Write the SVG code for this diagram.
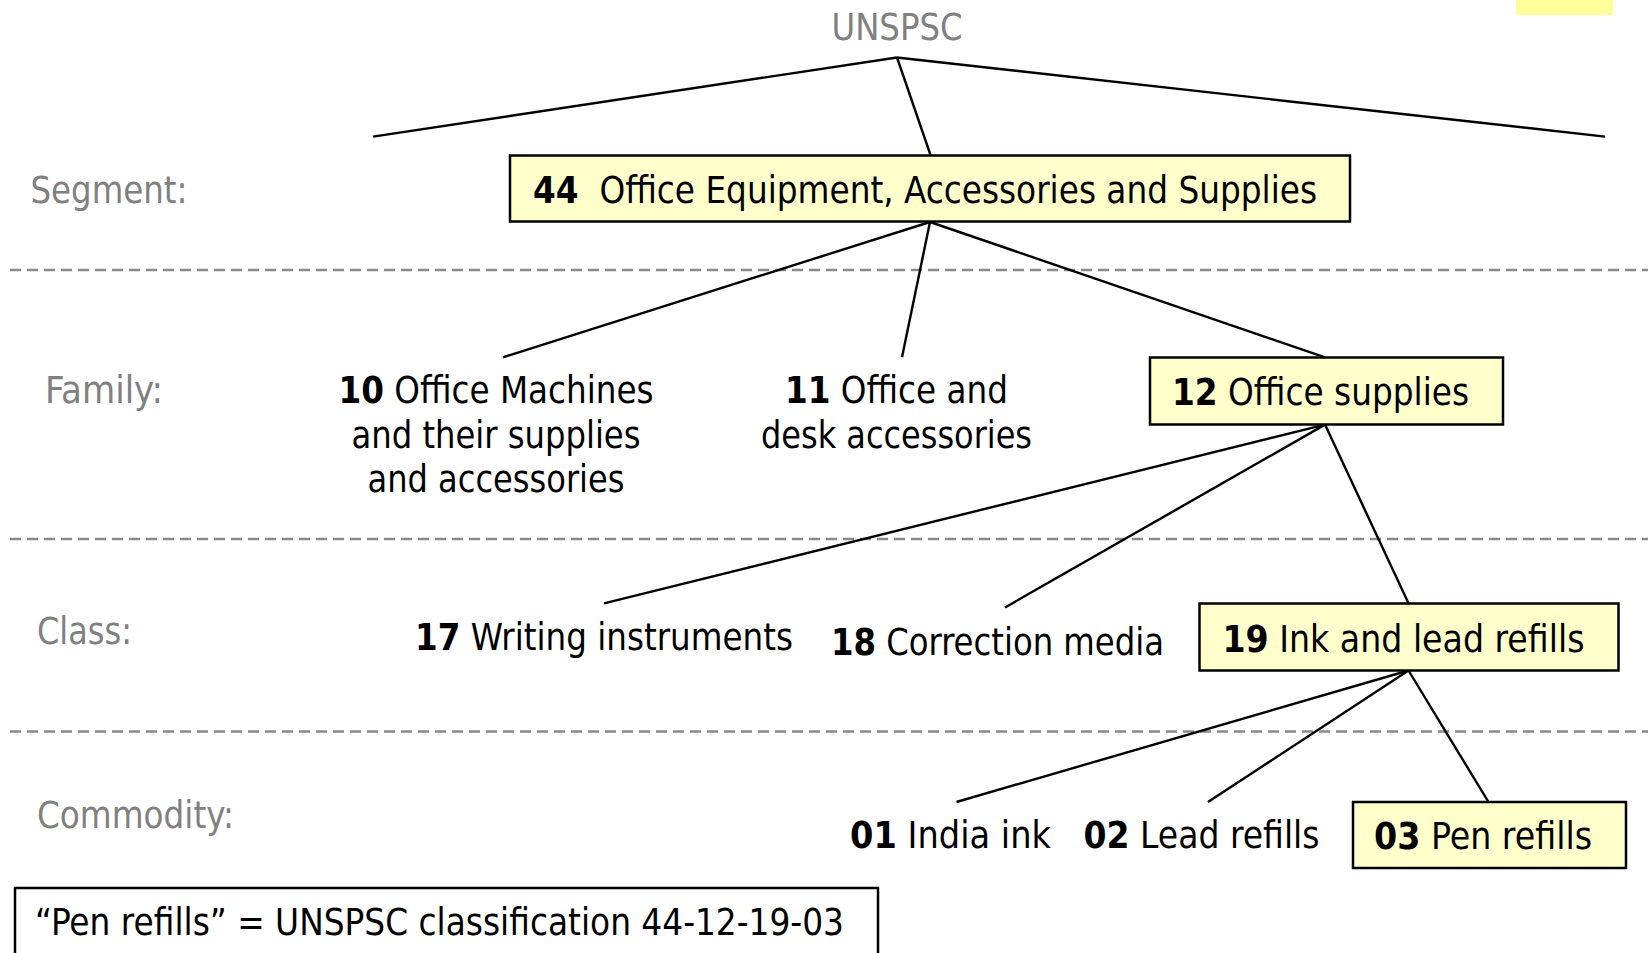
<svg xmlns="http://www.w3.org/2000/svg" width="1648" height="953" viewBox="0 0 1648 953">
<style>
text { font-family: "DejaVu Sans Condensed", "DejaVu Sans", sans-serif; font-size: 37px; fill: #000; }
.lbl { fill: #808080; }
.b { font-weight: bold; }
.box { fill: #FFFFCC; stroke: #000; stroke-width: 2.5; }
.conn line { stroke: #000; stroke-width: 2.4; }
.sep line { stroke: #8a8a8a; stroke-width: 2.6; stroke-dasharray: 11 6; }
</style>
<rect x="0" y="0" width="1648" height="953" fill="#fff"/>
<rect id="yellow-mark" x="1516" y="0" width="97" height="15" fill="#FFFF99"/>

<g id="separators" class="sep">
  <line x1="10" y1="270" x2="1648" y2="270"/>
  <line x1="10" y1="539" x2="1648" y2="539"/>
  <line x1="10" y1="731.5" x2="1648" y2="731.5"/>
</g>

<g id="level-labels">
  <text class="lbl" x="897" y="40" text-anchor="middle" textLength="131" lengthAdjust="spacingAndGlyphs">UNSPSC</text>
  <text class="lbl" x="30.5" y="203" textLength="157" lengthAdjust="spacingAndGlyphs">Segment:</text>
  <text class="lbl" x="45" y="403" textLength="118" lengthAdjust="spacingAndGlyphs">Family:</text>
  <text class="lbl" x="37" y="644" textLength="95" lengthAdjust="spacingAndGlyphs">Class:</text>
  <text class="lbl" x="37" y="828" textLength="197" lengthAdjust="spacingAndGlyphs">Commodity:</text>
</g>

<g id="connectors" class="conn">
  <line x1="897" y1="57.5" x2="373" y2="136.6"/>
  <line x1="897" y1="57.5" x2="930.5" y2="155"/>
  <line x1="897" y1="57.5" x2="1605" y2="136.6"/>
  <line x1="930" y1="222" x2="503" y2="357.3"/>
  <line x1="930" y1="222" x2="902" y2="357.3"/>
  <line x1="930" y1="222" x2="1325" y2="357.3"/>
  <line x1="1325" y1="424.6" x2="604" y2="603.3"/>
  <line x1="1325" y1="424.6" x2="1005" y2="607.5"/>
  <line x1="1325" y1="424.6" x2="1408.5" y2="603.3"/>
  <line x1="1408.5" y1="670.5" x2="956.5" y2="802"/>
  <line x1="1408.5" y1="670.5" x2="1208" y2="802"/>
  <line x1="1408.5" y1="670.5" x2="1488.5" y2="802"/>
</g>

<g id="seg-44">
  <rect class="box" x="510" y="155.5" width="840" height="66"/>
  <text x="533" y="203" xml:space="preserve" textLength="784" lengthAdjust="spacingAndGlyphs"><tspan class="b">44</tspan>  Office Equipment, Accessories and Supplies</text>
</g>

<g id="fam-10">
  <text x="496" y="403" text-anchor="middle" textLength="315" lengthAdjust="spacingAndGlyphs"><tspan class="b">10</tspan> Office Machines</text>
  <text x="496" y="447.5" text-anchor="middle" textLength="289" lengthAdjust="spacingAndGlyphs">and their supplies</text>
  <text x="496" y="492" text-anchor="middle" textLength="257" lengthAdjust="spacingAndGlyphs">and accessories</text>
</g>

<g id="fam-11">
  <text x="896.5" y="403" text-anchor="middle" textLength="223" lengthAdjust="spacingAndGlyphs"><tspan class="b">11</tspan> Office and</text>
  <text x="896.5" y="448" text-anchor="middle" textLength="271" lengthAdjust="spacingAndGlyphs">desk accessories</text>
</g>

<g id="fam-12">
  <rect class="box" x="1150" y="357.5" width="353" height="67"/>
  <text x="1172" y="405" textLength="297" lengthAdjust="spacingAndGlyphs"><tspan class="b">12</tspan> Office supplies</text>
</g>

<g id="class-17">
  <text x="415" y="650" textLength="378" lengthAdjust="spacingAndGlyphs"><tspan class="b">17</tspan> Writing instruments</text>
</g>

<g id="class-18">
  <text x="831" y="655" textLength="333" lengthAdjust="spacingAndGlyphs"><tspan class="b">18</tspan> Correction media</text>
</g>

<g id="class-19">
  <rect class="box" x="1199.5" y="603.5" width="419" height="67"/>
  <text x="1222.5" y="652" textLength="362" lengthAdjust="spacingAndGlyphs"><tspan class="b">19</tspan> Ink and lead refills</text>
</g>

<g id="com-01">
  <text x="850" y="848" textLength="201" lengthAdjust="spacingAndGlyphs"><tspan class="b">01</tspan> India ink</text>
</g>

<g id="com-02">
  <text x="1083.5" y="848" textLength="236" lengthAdjust="spacingAndGlyphs"><tspan class="b">02</tspan> Lead refills</text>
</g>

<g id="com-03">
  <rect class="box" x="1353" y="802" width="273" height="66"/>
  <text x="1374" y="849" textLength="218" lengthAdjust="spacingAndGlyphs"><tspan class="b">03</tspan> Pen refills</text>
</g>

<g id="note">
  <rect x="15" y="888" width="863" height="90" fill="#fff" stroke="#000" stroke-width="2.5"/>
  <text x="35" y="935" textLength="809" lengthAdjust="spacingAndGlyphs">“Pen refills” = UNSPSC classification 44-12-19-03</text>
</g>
</svg>
